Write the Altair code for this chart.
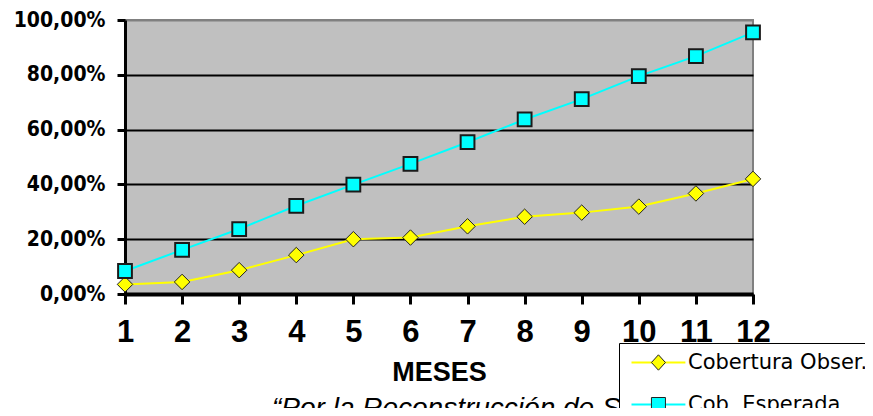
import altair as alt
import pandas as pd

# ---- data ----
meses = ["1", "2", "3", "4", "5", "6", "7", "8", "9", "10", "11", "12"]
observada = [0.035, 0.044, 0.087, 0.142, 0.200, 0.206, 0.247, 0.282, 0.297, 0.319, 0.367, 0.420]
esperada = [0.084, 0.161, 0.237, 0.322, 0.399, 0.475, 0.554, 0.637, 0.711, 0.795, 0.868, 0.955]
series = ["Cobertura Obser.", "Cob. Esperada"]
colores = ["#FFFF00", "#00FFFF"]
y_ticks = [0, 0.2, 0.4, 0.6, 0.8, 1.0]
titulo_x = "MESES"
pie = "\u201cPor la Reconstrucci\u00f3n de Salud\u201d"

# legend glyphs (unit box = 7 px): a line, and a marker placed on its middle
linea_leyenda = "M-1,0L6.7,0"
marcadores_leyenda = [
    "M1.85,0L2.85,-1.1L3.85,0L2.85,1.1Z",   # diamond
    "M1.85,-1L3.85,-1L3.85,1L1.85,1Z",      # square
]

rows = []
for i, m in enumerate(meses):
    rows.append({"mes": m, "orden": i, "serie": series[0], "valor": observada[i]})
    rows.append({"mes": m, "orden": i, "serie": series[1], "valor": esperada[i]})
df = pd.DataFrame(rows)

x = alt.X(
    "mes:O",
    sort=meses,
    scale=alt.Scale(type="point", padding=0),
    title=titulo_x,
    axis=alt.Axis(
        labelAngle=0, grid=False,
        domainColor="black", domainWidth=4,
        tickColor="black", tickWidth=3, tickSize=10,
        labelFont="Liberation Sans", labelFontWeight="bold", labelFontSize=31,
        labelColor="black", labelPadding=13,
        titleFont="Liberation Sans", titleFontWeight="bold", titleFontSize=27,
        titleColor="black", titlePadding=12,
    ),
)
y = alt.Y(
    "valor:Q",
    scale=alt.Scale(domain=[0, 1], nice=False),
    title=None,
    axis=alt.Axis(
        values=y_ticks,
        labelExpr="replace(format(datum.value, '.2%'), '.', ',')",
        grid=True,
        gridColor={"condition": {"test": "datum.value >= 1", "value": "#808080"}, "value": "black"},
        gridWidth=2,
        domainColor="black", domainWidth=3,
        tickColor="black", tickWidth=3, tickSize=8,
        labelFont="DejaVu Sans Condensed", labelFontWeight="bold", labelFontSize=21,
        labelColor="black", labelPadding=12,
    ),
)

comun = dict(
    title=None, orient="none", legendX=494, legendY=323,
    padding=9, symbolSize=196, symbolStrokeWidth=2,
    labelFont="DejaVu Sans", labelFontSize=21, labelColor="black",
    labelOffset=39, labelLimit=400, rowPadding=20,
)

base = alt.Chart(df)

# lines (their legend draws the coloured line of each entry and the box)
lineas = base.mark_line(strokeWidth=2).encode(
    x=x, y=y,
    color=alt.Color(
        "serie:N",
        scale=alt.Scale(domain=series, range=colores),
        legend=alt.Legend(symbolType=linea_leyenda, fillColor="white", strokeColor="black",
                          zindex=1, **comun),
    ),
    order=alt.Order("orden:Q"),
)
pts_obs = base.transform_filter(alt.datum.serie == series[0]).mark_point(
    shape="diamond", filled=True, size=240, stroke="#222222", strokeWidth=1, opacity=1
).encode(x=x, y=y, color=alt.Color("serie:N", legend=None))
pts_esp = base.transform_filter(alt.datum.serie == series[1]).mark_point(
    shape="square", filled=True, size=190, stroke="#1a1a1a", strokeWidth=2, opacity=1
).encode(x=x, y=y, color=alt.Color("serie:N", legend=None))

# markers of the legend entries, drawn over the lines of the first legend
ley_b = dict(comun)
ley_b["symbolStrokeWidth"] = 1
ley_b["labelOffset"] = 40
ley_b["labelOpacity"] = 0
orden_inv = series[::-1]
marcas_ley = base.transform_filter("false").mark_point(
    filled=True, opacity=1, stroke="#222222", strokeWidth=1
).encode(
    x=x, y=y,
    fill=alt.Fill("serie:N", scale=alt.Scale(domain=orden_inv, range=colores[::-1]),
                  legend=alt.Legend(values=series, zindex=2, **ley_b)),
    shape=alt.Shape("serie:N", scale=alt.Scale(domain=orden_inv, range=marcadores_leyenda[::-1]),
                    legend=alt.Legend(values=series, zindex=2, **ley_b)),
)

chart = (
    alt.layer(lineas, pts_obs, pts_esp, marcas_ley)
    .properties(
        width=628,
        height=274,
        autosize=alt.AutoSizeParams(type="none"),
        padding={"left": 117, "top": 12, "right": 112, "bottom": 114},
        title=alt.TitleParams(
            pie, orient="bottom", anchor="start", frame="group",
            font="Liberation Sans", fontStyle="italic", fontWeight="normal",
            fontSize=28, color="black", dx=147, offset=-30,
        ),
    )
    .configure_view(fill="#C0C0C0", stroke="#808080", strokeWidth=2)
)

chart.save("out.html", embed_options={"renderer": "svg", "actions": False})
